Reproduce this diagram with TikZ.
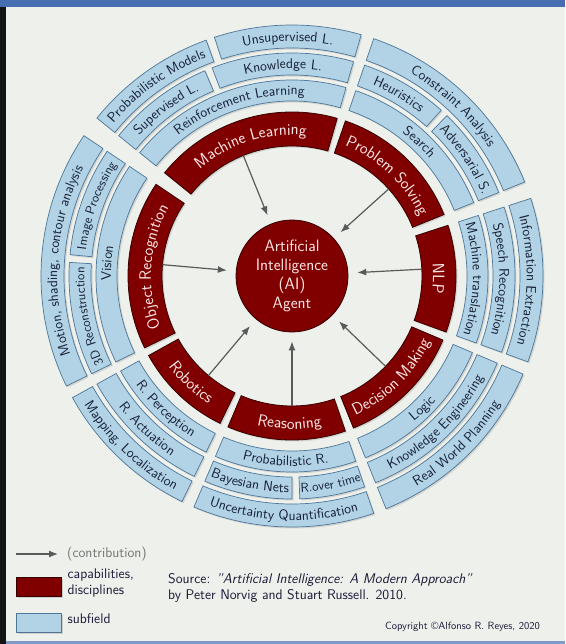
\documentclass[tikz,border=0pt]{standalone}
\usepackage{xcolor}
\usepackage{tikz}
\usetikzlibrary{arrows.meta,positioning,decorations.text,shadows}
\renewcommand{\familydefault}{\sfdefault}

\definecolor{paper}{RGB}{238,241,235}
\definecolor{screenbar}{RGB}{72,110,178}
\definecolor{capred}{RGB}{128,0,0}
\definecolor{capline}{RGB}{55,0,0}
\definecolor{captxt}{RGB}{250,228,228}
\definecolor{subblue}{RGB}{178,210,230}
\definecolor{subline}{RGB}{78,118,152}
\definecolor{subtxt}{RGB}{22,32,52}
\definecolor{contribgray}{RGB}{90,90,90}
\definecolor{legtxt}{RGB}{25,25,55}

% annular segment: style, from angle, to angle, inner r, outer r
\newcommand{\ringseg}[5]{%
  \draw[#1] (#2:#4) arc[start angle=#2, end angle=#3, radius=#4]
    -- (#3:#5) arc[start angle=#3, end angle=#2, radius=#5] -- cycle;}
% curved labels: format, mid angle, baseline radius, text
\newcommand{\cwlabel}[4]{%
  \path[decorate, decoration={text along path, text align=center,
        text={|#1|#4}}]
    ({#2+70}:#3) arc[start angle={#2+70}, end angle={#2-70}, radius=#3];}
\newcommand{\ccwlabel}[4]{%
  \path[decorate, decoration={text along path, text align=center,
        text={|#1|#4}}]
    ({#2-70}:#3) arc[start angle={#2-70}, end angle={#2+70}, radius=#3];}
\newcommand{\capfmt}{\fontsize{16.5}{19}\selectfont\color{captxt}}
\newcommand{\subfmt}{\fontsize{14}{16}\selectfont\color{subtxt}}
\newcommand{\subfmtsm}{\fontsize{13}{15}\selectfont\color{subtxt}}

\begin{document}
\begin{tikzpicture}[
  x=1pt, y=1pt,
  capseg/.style  = {fill=capred, draw=capline, line width=0.8pt,
                    drop shadow={opacity=.25, shadow xshift=1.5pt,
                                 shadow yshift=-1.5pt}},
  subseg/.style  = {fill=subblue, draw=subline, line width=0.7pt,
                    drop shadow={opacity=.25, shadow xshift=1.5pt,
                                 shadow yshift=-1.5pt}},
  agent/.style   = {circle, fill=capred, draw=capline, line width=0.8pt,
                    minimum size=112pt, inner sep=0pt, align=center,
                    text=captxt, font=\fontsize{16.5}{19}\selectfont},
  contrib/.style = {-{Latex[length=9pt,width=7pt]}, line width=1.2pt,
                    contribgray},
  legbox/.style  = {rectangle, minimum width=45pt, minimum height=19pt,
                    inner sep=0pt, line width=0.8pt,
                    drop shadow={opacity=.3, shadow xshift=1.5pt,
                                 shadow yshift=-1.5pt}},
  legend/.style  = {font=\fontsize{14}{16}\selectfont, text=legtxt,
                    align=left, inner sep=0pt}
]

%% ─── Page and screen edges ──────────────────────────────────────
\useasboundingbox (0,0) rectangle (565,-644);
\fill[paper] (0,0) rectangle (565,-644);
\fill[black!92] (0,-7) rectangle (6,-644);
\fill[screenbar] (0,0) rectangle (565,-7);
\fill[screenbar!70] (6,-641) rectangle (565,-644);

\begin{scope}[shift={(292,-276)}]

%% ─── Outer ring: subfields ──────────────────────────────────────
\ringseg{subseg}{146}{206}{228}{251}
\ringseg{subseg}{110}{141}{228}{251}
\ringseg{subseg}{74}{108}{228}{251}
\ringseg{subseg}{22}{71}{228}{251}
\ringseg{subseg}{-20}{18}{228}{251}
\ringseg{subseg}{-68}{-23}{228}{251}
\ringseg{subseg}{-113}{-71}{228}{251}
\ringseg{subseg}{-151}{-116}{228}{251}

%% ─── Middle ring: subfields ─────────────────────────────────────
\ringseg{subseg}{146}{174.5}{201}{223}
\ringseg{subseg}{176.5}{206}{201}{223}
\ringseg{subseg}{113}{141}{201}{223}
\ringseg{subseg}{74}{111}{201}{223}
\ringseg{subseg}{48}{71}{201}{223}
\ringseg{subseg}{22}{46}{201}{223}
\ringseg{subseg}{-20}{18}{201}{223}
\ringseg{subseg}{-68}{-23}{201}{223}
\ringseg{subseg}{-113}{-90}{201}{223}
\ringseg{subseg}{-88}{-71}{201}{223}
\ringseg{subseg}{-151}{-116}{201}{223}

%% ─── Inner ring: subfields ──────────────────────────────────────
\ringseg{subseg}{146}{206}{175}{196}
\ringseg{subseg}{74}{141}{175}{196}
\ringseg{subseg}{22}{71}{175}{196}
\ringseg{subseg}{-20}{18}{175}{196}
\ringseg{subseg}{-68}{-23}{175}{196}
\ringseg{subseg}{-113}{-71}{175}{196}
\ringseg{subseg}{-151}{-116}{175}{196}

%% ─── Red ring: capabilities, disciplines ────────────────────────
\ringseg{capseg}{146}{206}{130}{164}
\ringseg{capseg}{74}{141}{130}{164}
\ringseg{capseg}{22}{71}{130}{164}
\ringseg{capseg}{-20}{18}{130}{164}
\ringseg{capseg}{-68}{-23}{130}{164}
\ringseg{capseg}{-113}{-71}{130}{164}
\ringseg{capseg}{-151}{-116}{130}{164}

%% ─── Labels: outer ring ─────────────────────────────────────────
\cwlabel{\subfmt}{176}{234.8}{Motion, shading, contour analysis}
\cwlabel{\subfmt}{125.5}{234.8}{Probabilistic Models}
\cwlabel{\subfmt}{91}{234.8}{Unsupervised L.}
\cwlabel{\subfmt}{46.5}{234.8}{Constraint Analysis}
\cwlabel{\subfmt}{-1}{234.8}{Information Extraction}
\ccwlabel{\subfmt}{-45.5}{244.2}{Real World Planning}
\ccwlabel{\subfmt}{-92}{244.2}{Uncertainty Quantification}
\ccwlabel{\subfmt}{-133.5}{244.2}{Mapping, Localization}

%% ─── Labels: middle ring ────────────────────────────────────────
\cwlabel{\subfmtsm}{160.25}{207.6}{Image Processing}
\cwlabel{\subfmtsm}{191.25}{207.6}{3D Reconstruction}
\cwlabel{\subfmt}{127}{207.3}{Supervised L.}
\cwlabel{\subfmt}{92.5}{207.3}{Knowledge L.}
\cwlabel{\subfmt}{59.5}{207.3}{Heuristics}
\cwlabel{\subfmt}{34}{207.3}{Adversarial S.}
\cwlabel{\subfmt}{-1}{207.3}{Speech Recognition}
\ccwlabel{\subfmt}{-45.5}{216.7}{Knowledge Engineering}
\ccwlabel{\subfmt}{-101.5}{216.7}{Bayesian Nets}
\ccwlabel{\subfmtsm}{-79.5}{216.4}{R.over time}
\ccwlabel{\subfmt}{-133.5}{216.7}{R. Actuation}

%% ─── Labels: inner ring ─────────────────────────────────────────
\cwlabel{\subfmt}{176}{181}{Vision}
\cwlabel{\subfmt}{107.5}{181}{Reinforcement Learning}
\cwlabel{\subfmt}{46.5}{181}{Search}
\cwlabel{\subfmt}{-1}{181}{Machine translation}
\ccwlabel{\subfmt}{-45.5}{190}{Logic}
\ccwlabel{\subfmt}{-92}{190}{Probabilistic R.}
\ccwlabel{\subfmt}{-133.5}{190}{R. Perception}

%% ─── Labels: red ring ───────────────────────────────────────────
\cwlabel{\capfmt}{176}{141}{Object Recognition}
\cwlabel{\capfmt}{107.5}{141}{Machine Learning}
\cwlabel{\capfmt}{46.5}{141}{Problem Solving}
\cwlabel{\capfmt}{-1}{141}{NLP}
\ccwlabel{\capfmt}{-45.5}{153}{Decision Making}
\ccwlabel{\capfmt}{-91}{153}{Reasoning}
\ccwlabel{\capfmt}{-133.5}{153}{Robotics}

%% ─── Centre: the agent ──────────────────────────────────────────
\node[agent] (ai) at (0,0) {Artificial\\Intelligence\\(AI)\\Agent};

%% ─── Arrows: contributions into the agent ───────────────────────
\coordinate (ml)     at (112:130);
\coordinate (ps)     at (42:130);
\coordinate (nlp)    at (3:130);
\coordinate (dm)     at (-44:130);
\coordinate (reas)   at (-90:130);
\coordinate (rob)    at (-130:130);
\coordinate (objrec) at (175:130);

\draw[contrib, shorten >=9pt] (ml)     -- (ai);
\draw[contrib, shorten >=9pt] (ps)     -- (ai);
\draw[contrib, shorten >=9pt] (nlp)    -- (ai);
\draw[contrib, shorten >=9pt] (dm)     -- (ai);
\draw[contrib, shorten >=9pt] (reas)   -- (ai);
\draw[contrib, shorten >=9pt] (rob)    -- (ai);
\draw[contrib, shorten >=9pt] (objrec) -- (ai);

\end{scope}

%% ─── Legend ─────────────────────────────────────────────────────
\coordinate (legtail) at (16,-554);
\node[legend, anchor=west, text=black!55] (contribtxt) at (67,-554)
  {(contribution)};
\draw[contrib, shorten >=9pt] (legtail) -- (contribtxt.west);

\node[legbox, fill=capred, draw=capline] (legred) at (38.5,-587) {};
\node[legend, right=6pt of legred, yshift=4pt] (captext)
  {capabilities,\\disciplines};

\node[legbox, fill=subblue, draw=subline] (legblue) at (38.5,-623) {};
\node[legend, anchor=north west] (subtext) at ([xshift=6pt]legblue.north east)
  {subfield};

%% ─── Source and copyright ───────────────────────────────────────
\node[legend, anchor=west] (source) at (168,-588)
  {Source: \textit{"Artificial Intelligence: A Modern Approach"}\\
   by Peter Norvig and Stuart Russell. 2010.};
\node[legend, anchor=east, font=\fontsize{10.5}{12}\selectfont]
  (copyright) at (540,-627) {Copyright \textcopyright Alfonso R. Reyes, 2020};

\end{tikzpicture}
\end{document}
